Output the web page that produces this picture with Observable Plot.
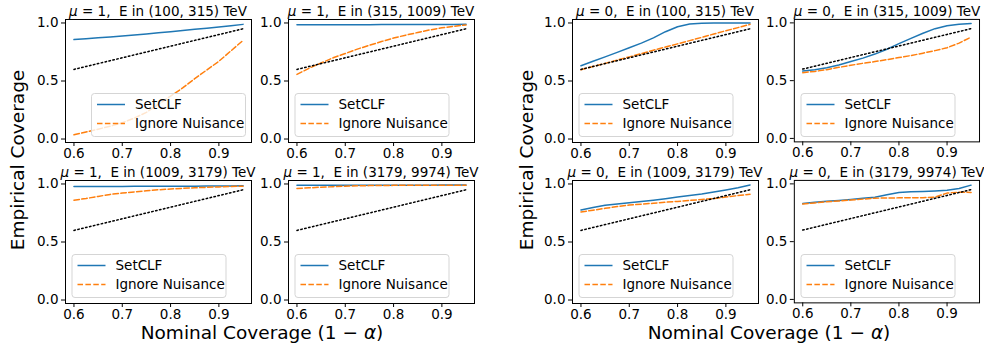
<!DOCTYPE html>
<html><head><meta charset="utf-8">
<script src="https://cdn.jsdelivr.net/npm/d3@7"></script>
<script src="https://cdn.jsdelivr.net/npm/@observablehq/plot@0.6"></script>
<style>
body{margin:0;background:#fff;}
#root{position:relative;width:984px;height:347px;font-family:"DejaVu Sans",sans-serif;overflow:hidden;background:#fff;}
.panel{position:absolute;}
.panel svg{overflow:visible;}
#overlay{position:absolute;left:0;top:0;}
</style></head>
<body><div id="root"></div>
<script>
// Nominal coverage grid (x values)
const X = [0.6, 0.625, 0.65, 0.675, 0.7, 0.725, 0.75, 0.775, 0.8, 0.825, 0.85, 0.875, 0.9, 0.925, 0.95];

// mu = 1 panels
const setclf_mu1_E1 = [0.857,0.865,0.872,0.880,0.888,0.896,0.905,0.915,0.925,0.935,0.945,0.955,0.965,0.976,0.988];
const ignore_mu1_E1 = [0.037,0.06,0.085,0.11,0.14,0.18,0.23,0.30,0.37,0.44,0.52,0.595,0.67,0.76,0.85];
const setclf_mu1_E2 = [0.984,0.984,0.985,0.985,0.985,0.985,0.985,0.986,0.986,0.986,0.986,0.987,0.987,0.987,0.988];
const ignore_mu1_E2 = [0.557,0.61,0.655,0.70,0.737,0.775,0.808,0.84,0.87,0.895,0.918,0.94,0.958,0.972,0.983];
const setclf_mu1_E3 = [0.978,0.978,0.979,0.979,0.979,0.980,0.980,0.980,0.981,0.981,0.981,0.982,0.982,0.983,0.984];
const ignore_mu1_E3 = [0.86,0.875,0.893,0.91,0.922,0.932,0.942,0.95,0.957,0.962,0.967,0.971,0.975,0.978,0.981];
const setclf_mu1_E4 = [0.989,0.989,0.989,0.99,0.99,0.99,0.99,0.99,0.99,0.99,0.99,0.99,0.991,0.991,0.991];
const ignore_mu1_E4 = [0.962,0.967,0.972,0.977,0.981,0.984,0.986,0.987,0.988,0.988,0.989,0.989,0.99,0.99,0.99];

// mu = 0 panels
const setclf_mu0_E1 = [0.632,0.67,0.708,0.747,0.786,0.826,0.872,0.925,0.968,0.992,0.998,1.0,1.0,1.0,1.0];
const ignore_mu0_E1 = [0.597,0.625,0.652,0.68,0.708,0.736,0.765,0.793,0.82,0.848,0.876,0.905,0.933,0.96,0.988];
const setclf_mu0_E2 = [0.583,0.595,0.612,0.635,0.665,0.695,0.73,0.772,0.82,0.866,0.91,0.95,0.975,0.988,0.995];
const ignore_mu0_E2 = [0.569,0.58,0.595,0.615,0.633,0.65,0.665,0.682,0.70,0.717,0.738,0.76,0.785,0.825,0.877];
const setclf_mu0_E3 = [0.776,0.797,0.816,0.828,0.838,0.848,0.86,0.873,0.887,0.90,0.913,0.93,0.948,0.968,0.991];
const ignore_mu0_E3 = [0.759,0.774,0.79,0.805,0.818,0.826,0.834,0.843,0.85,0.858,0.866,0.875,0.887,0.90,0.911];
const setclf_mu0_E4 = [0.83,0.84,0.85,0.857,0.865,0.875,0.885,0.905,0.925,0.931,0.935,0.939,0.944,0.96,0.989];
const ignore_mu0_E4 = [0.825,0.835,0.845,0.852,0.86,0.868,0.876,0.878,0.879,0.879,0.88,0.885,0.92,0.928,0.926];

// panel labels
const muValues = [1, 1, 1, 1, 0, 0, 0, 0];
const energyBins = ["(100, 315)", "(315, 1009)", "(1009, 3179)", "(3179, 9974)",
                    "(100, 315)", "(315, 1009)", "(1009, 3179)", "(3179, 9974)"];
const setclfSeries = [setclf_mu1_E1, setclf_mu1_E2, setclf_mu1_E3, setclf_mu1_E4,
                      setclf_mu0_E1, setclf_mu0_E2, setclf_mu0_E3, setclf_mu0_E4];
const ignoreSeries = [ignore_mu1_E1, ignore_mu1_E2, ignore_mu1_E3, ignore_mu1_E4,
                      ignore_mu0_E1, ignore_mu0_E2, ignore_mu0_E3, ignore_mu0_E4];
const legendLabels = ["SetCLF", "Ignore Nuisance"];
const xTicks = [0.6, 0.7, 0.8, 0.9];
const yTicks = [0, 0.5, 1.0];

// layout
const FW = 186, FH = 123;
const colX = [65, 288, 572, 794];
const rowY = [19, 180];
const ML = 40, MR = 5, MT = 20, MB = 25;
const BLUE = "#1f77b4", ORANGE = "#ff7f0e";
const FONT = "'DejaVu Sans', sans-serif";

const root = document.getElementById("root");

function makePanel(i) {
  const setData = X.map((x, k) => ({x, y: setclfSeries[i][k]}));
  const ignData = X.map((x, k) => ({x, y: ignoreSeries[i][k]}));
  return Plot.plot({
    width: ML + FW + MR, height: MT + FH + MB,
    marginLeft: ML, marginRight: MR, marginTop: MT, marginBottom: MB,
    style: {fontFamily: FONT, fontSize: "13.5px", color: "black", background: "transparent", overflow: "visible"},
    x: {domain: [0.5825, 0.9675], ticks: xTicks, tickFormat: d3.format(".1f"), tickSize: 4, tickPadding: 1.5, label: null},
    y: {domain: [-0.03, 1.03], ticks: yTicks, tickFormat: d3.format(".1f"), tickSize: 4, tickPadding: 3, label: null},
    marks: [
      Plot.line(setData, {x: "x", y: "y", stroke: BLUE, strokeWidth: 1.5}),
      Plot.line(ignData, {x: "x", y: "y", stroke: ORANGE, strokeWidth: 1.5, strokeDasharray: "5.5,2.4"}),
      Plot.line(X, {x: d => d, y: d => d, stroke: "black", strokeWidth: 1.5, strokeDasharray: "1.5,2.5"}),
      Plot.frame({stroke: "black", strokeWidth: 1})
    ]
  });
}

for (let i = 0; i < 8; i++) {
  const col = (i < 4 ? 0 : 2) + (i % 2);
  const row = Math.floor((i % 4) / 2);
  const div = document.createElement("div");
  div.className = "panel";
  div.style.left = (colX[col] - ML) + "px";
  div.style.top = (rowY[row] - MT) + "px";
  div.appendChild(makePanel(i));
  root.appendChild(div);
}

// overlay: titles, legends, axis labels
const svg = d3.select(root).append("svg").attr("id", "overlay")
  .attr("width", 984).attr("height", 347)
  .style("font-family", FONT).style("pointer-events", "none");

for (let i = 0; i < 8; i++) {
  const col = (i < 4 ? 0 : 2) + (i % 2);
  const row = Math.floor((i % 4) / 2);
  const fx = colX[col], fy = rowY[row];
  const t = svg.append("text").attr("x", fx + FW / 2).attr("y", fy - 3.5)
    .attr("text-anchor", "middle").attr("font-size", 13.5).style("white-space", "pre");
  t.append("tspan").attr("font-style", "italic").text("μ");
  t.append("tspan").text(" = " + muValues[i] + ",  E in " + energyBins[i] + " TeV");

  // legend
  const lw = 154, lh = 43;
  const lx = (i === 0) ? fx + FW - 6 - lw : fx + 6.5;
  const ly = fy + FH - 6 - lh;
  const g = svg.append("g").attr("transform", `translate(${lx},${ly})`);
  g.append("rect").attr("x", 0.5).attr("y", 0.5).attr("width", lw).attr("height", lh).attr("rx", 3)
    .attr("fill", "white").attr("fill-opacity", 0.8).attr("stroke", "#d5d5d5").attr("stroke-width", 1);
  g.append("line").attr("x1", 6).attr("x2", 34).attr("y1", 11.5).attr("y2", 11.5)
    .attr("stroke", BLUE).attr("stroke-width", 1.5);
  g.append("line").attr("x1", 6).attr("x2", 34).attr("y1", 30.5).attr("y2", 30.5)
    .attr("stroke", ORANGE).attr("stroke-width", 1.5).attr("stroke-dasharray", "5.5,2.4");
  g.append("text").attr("x", 44).attr("y", 16.3).attr("font-size", 13.5).text(legendLabels[0]);
  g.append("text").attr("x", 44).attr("y", 35.3).attr("font-size", 13.5).text(legendLabels[1]);
}

// axis labels
for (const [cx, lx] of [[262, 24], [769, 533]]) {
  const xl = svg.append("text").attr("x", cx).attr("y", 338.5).attr("text-anchor", "middle")
    .attr("font-size", 18.5).style("white-space", "pre");
  xl.append("tspan").text("Nominal Coverage (1 − ");
  xl.append("tspan").attr("font-style", "italic").text("α");
  xl.append("tspan").text(")");
  svg.append("text").attr("transform", `translate(${lx},160) rotate(-90)`)
    .attr("text-anchor", "middle").attr("font-size", 18.5).text("Empirical Coverage");
}
</script></body></html>
